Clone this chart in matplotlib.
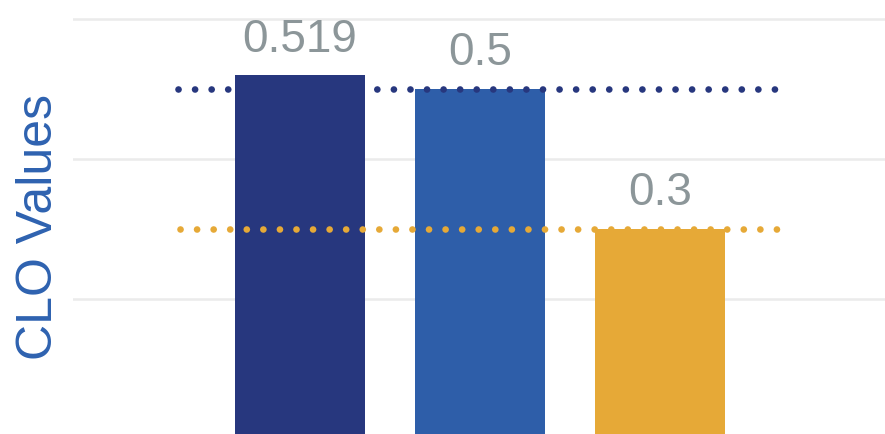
import matplotlib
matplotlib.use("Agg")
import matplotlib.pyplot as plt

categories = ["A", "B", "C"]
values = [0.519, 0.5, 0.3]
value_labels = ["0.519", "0.5", "0.3"]
bar_colors = ["#27377E", "#2E5EA9", "#E6A937"]
ref_values = [0.5, 0.3]
ref_colors = ["#27377E", "#E6A937"]
ref_spans = [(-0.678, 2.645), (-0.667, 2.66)]
grid_ticks = [0.2, 0.4, 0.6]

plt.rcParams['font.family'] = ['Liberation Sans', 'DejaVu Sans']

fig = plt.figure(figsize=(8.85, 4.34), dpi=100)
ax = fig.add_axes([73/885, 0, 1 - 73/885, 1])

x = list(range(len(categories)))
ax.bar(x, values, width=0.722, color=bar_colors, zorder=2)

for xi, v, lab in zip(x, values, value_labels):
    ax.annotate(lab, (xi, v), xytext=(0, 17), textcoords='offset points',
                ha='center', va='baseline', fontsize=33, color='#8C9699')

for rv, rc, (x0, x1) in zip(ref_values, ref_colors, ref_spans):
    ax.plot([x0, x1], [rv, rv], color=rc, linewidth=4.8,
            linestyle=(0, (0.01, 2.475)), dash_capstyle='round', zorder=3)

ax.set_xlim(-1.261, 3.25)
ax.set_ylim(0.0081, 0.6264)
ax.set_yticks(grid_ticks)
ax.set_yticklabels([])
ax.set_xticks([])
ax.tick_params(length=0)
ax.grid(axis='y', color='#EBEBEB', linewidth=1.8, zorder=0)
ax.set_axisbelow(True)
for s in ax.spines.values():
    s.set_visible(False)

fig.text(39/885, 1 - 227/434, "CLO Values", rotation=90, ha='center', va='center',
         fontsize=36, color='#2E62B0')

fig.savefig("out.png", dpi=100)
